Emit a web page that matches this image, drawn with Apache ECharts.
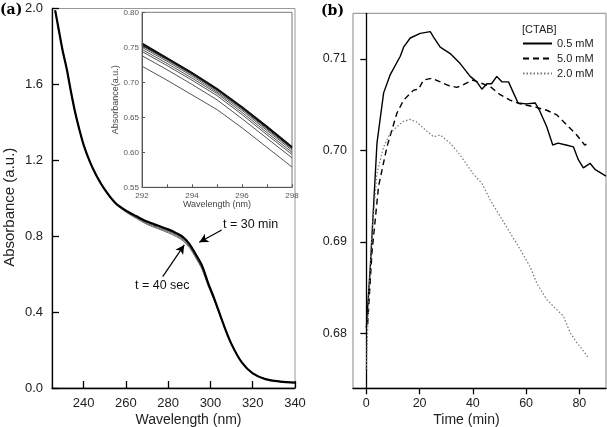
<!DOCTYPE html>
<html><head><meta charset="utf-8">
<script src="https://cdn.jsdelivr.net/npm/echarts@6/dist/echarts.min.js"></script>
<style>html,body{margin:0;padding:0;background:#fff}#c{width:607px;height:427px}</style>
</head><body><div id="c"></div>
<script>
// Panel (a) main spectra
const wl = [226.5,228,230,232,234,236,238,240,243,246,250,255,260,265,270,275,280,284,287,290,293,296,299,302,306,310,315,320,326,333,340];
const absMain = [1.99,1.90,1.78,1.68,1.56,1.45,1.36,1.28,1.19,1.12,1.045,0.975,0.935,0.905,0.877,0.856,0.836,0.815,0.795,0.76,0.705,0.645,0.55,0.465,0.34,0.23,0.132,0.077,0.047,0.034,0.028];
const absB = [1.99,1.90,1.78,1.68,1.56,1.45,1.36,1.28,1.19,1.12,1.045,0.973,0.932,0.900,0.871,0.850,0.829,0.808,0.787,0.752,0.697,0.637,0.544,0.461,0.34,0.23,0.132,0.077,0.047,0.034,0.028];
const absC = [1.99,1.90,1.78,1.68,1.56,1.45,1.36,1.28,1.19,1.12,1.045,0.972,0.930,0.897,0.867,0.845,0.824,0.803,0.782,0.746,0.692,0.631,0.540,0.458,0.34,0.23,0.132,0.077,0.047,0.034,0.028];
const absD = [1.99,1.90,1.78,1.68,1.56,1.45,1.36,1.28,1.19,1.12,1.045,0.970,0.927,0.893,0.862,0.840,0.818,0.797,0.776,0.740,0.686,0.625,0.535,0.455,0.338,0.23,0.132,0.077,0.047,0.034,0.028];
const aXTicks = [240,260,280,300,320,340];
// Inset
const insetWl = [292,293,294,295,296,297,298];
const insetLines = [
  [0.756,0.735,0.714,0.691,0.665,0.637,0.608],
  [0.755,0.734,0.713,0.690,0.664,0.636,0.607],
  [0.753,0.733,0.712,0.689,0.663,0.635,0.606],
  [0.752,0.732,0.711,0.688,0.662,0.633,0.605],
  [0.750,0.730,0.709,0.686,0.660,0.631,0.603],
  [0.747,0.727,0.706,0.684,0.657,0.628,0.600],
  [0.744,0.724,0.703,0.681,0.654,0.625,0.597],
  [0.738,0.718,0.697,0.675,0.648,0.620,0.592],
  [0.723,0.703,0.682,0.661,0.635,0.607,0.579]
];
const insetYTicks = [0.55,0.60,0.65,0.70,0.75,0.80];
// Panel (b)
const tSolid = [0,1.5,4,6.5,9,12.75,14,16.5,20.25,24,25.25,27.75,31.5,35.25,39,41.5,43.4,45.25,47,49,51,53.4,55.25,57,60,63.4,65,67.75,70,72,75,77.75,79.6,81.5,82,84,86,90];
const vSolid = [0.6806,0.6873,0.7008,0.7063,0.7083,0.7103,0.7113,0.7123,0.7128,0.7130,0.7124,0.7113,0.7106,0.7095,0.7081,0.7075,0.7067,0.7073,0.7073,0.7081,0.7075,0.7075,0.7063,0.7052,0.7051,0.7052,0.7044,0.7026,0.7006,0.7008,0.7006,0.7004,0.6990,0.6981,0.6980,0.6986,0.6979,0.6972];
const tDash = [0.5,2.1,4.6,7.75,11.5,14,17.75,19.6,21.5,24.6,27.75,30.9,34,36.5,40,42.75,46.5,50.25,54,57.75,62.75,67.75,71.5,75.25,79,82,84];
const vDash = [0.6810,0.6888,0.6961,0.7004,0.7041,0.7055,0.7066,0.7067,0.7077,0.7079,0.7075,0.7071,0.7069,0.7072,0.7077,0.7074,0.7070,0.7061,0.7055,0.7051,0.7048,0.7044,0.7039,0.7028,0.7017,0.7006,0.7009];
const tDot = [0,0.9,2.1,4,6.5,9,11.5,14,16.5,19,22.75,25.25,27.75,31.5,35.25,40,43.4,46.5,50.25,54,57.75,61.5,64,67.75,71.5,74,76.5,79,81.5,83.4];
const vDot = [0.6761,0.6837,0.6910,0.6975,0.7004,0.7019,0.7026,0.7032,0.7034,0.7031,0.7021,0.7015,0.7017,0.7008,0.6995,0.6975,0.6964,0.6946,0.6928,0.6910,0.6892,0.6873,0.6855,0.6837,0.6826,0.6819,0.6801,0.6790,0.6781,0.6773];
const bXTicks = [0,20,40,60,80];
const bYTicks = [0.68,0.69,0.70,0.71];
const legendNames = ['0.5 mM','5.0 mM','2.0 mM'];

const zip = (a,b) => a.map((v,i)=>[v,b[i]]);
const F = 'Liberation Sans, Arial, sans-serif';
const SERIF = 'bold 14px "DejaVu Serif", "Liberation Serif", serif';
const chart = echarts.init(document.getElementById('c'), null, {renderer:'canvas'});

const series = [];
[absD,absC,absB].forEach(arr => series.push({type:'line',xAxisIndex:0,yAxisIndex:0,data:zip(wl,arr),showSymbol:false,symbol:'none',smooth:0.3,lineStyle:{color:'#666',width:1},silent:true,z:2}));
series.push({type:'line',xAxisIndex:0,yAxisIndex:0,data:zip(wl,absMain),symbol:'none',smooth:0.3,lineStyle:{color:'#000',width:2.2},silent:true,z:3,
  markLine:{silent:true,symbol:['none','arrow'],symbolSize:[7,9],lineStyle:{color:'#000',width:1.2,type:'solid'},label:{show:false},
    data:[[{coord:[305.3,0.833]},{coord:[294.7,0.768]}],[{coord:[277.4,0.587]},{coord:[287.6,0.754]}]]}});
insetLines.forEach((arr,i)=>series.push({type:'line',xAxisIndex:1,yAxisIndex:1,data:zip(insetWl,arr),symbol:'none',lineStyle:{color: i<3?'#111':'#555',width: i<3?1.4:1},silent:true,z:5}));
series.push({name:legendNames[0],type:'line',xAxisIndex:2,yAxisIndex:2,data:zip(tSolid,vSolid),symbol:'none',itemStyle:{color:'#000',opacity:0},lineStyle:{color:'#000',width:1.4,type:'solid'},z:3});
series.push({name:legendNames[1],type:'line',xAxisIndex:2,yAxisIndex:2,data:zip(tDash,vDash),symbol:'none',itemStyle:{color:'#000',opacity:0},lineStyle:{color:'#000',width:1.4,type:[6,4]},z:3});
series.push({name:legendNames[2],type:'line',xAxisIndex:2,yAxisIndex:2,data:zip(tDot,vDot),symbol:'none',itemStyle:{color:'#777',opacity:0},lineStyle:{color:'#777',width:1.2,type:[1.5,2]},z:3});

chart.setOption({
  animation:false,
  backgroundColor:'#fff',
  textStyle:{fontFamily:F},
  grid:[
    {left:52,top:8.5,width:243,height:379.5,show:true,borderColor:'#999',borderWidth:1,backgroundColor:'transparent',outerBoundsMode:'none',containLabel:false},
    {left:142,top:12.3,width:150,height:175,show:true,borderColor:'#777',borderWidth:1,backgroundColor:'#fff',z:4,outerBoundsMode:'none',containLabel:false},
    {left:353,top:13.3,width:253,height:375,show:true,borderColor:'#888',borderWidth:1,backgroundColor:'transparent',outerBoundsMode:'none',containLabel:false}
  ],
  xAxis:[
    {type:'value',gridIndex:0,min:225,max:340,nameMoveOverlap:false,
     axisLine:{lineStyle:{color:'#000',width:1.3}},
     axisTick:{inside:true,length:7,lineStyle:{color:'#000',width:1.3},customValues:aXTicks},
     axisLabel:{color:'#222',fontSize:13,margin:9,customValues:aXTicks,fontFamily:F},
     splitLine:{show:false},
     name:'Wavelength (nm)',nameLocation:'middle',nameGap:25,nameTextStyle:{fontSize:14,color:'#222',fontFamily:F,padding:[0,0,0,30]}},
    {type:'value',gridIndex:1,min:292,max:298,z:6,nameMoveOverlap:false,
     axisLine:{lineStyle:{color:'#555',width:1}},
     axisTick:{inside:true,length:3,lineStyle:{color:'#555'},customValues:insetWl},
     axisLabel:{color:'#555',fontSize:8,margin:4,customValues:[292,294,296,298],fontFamily:F},
     splitLine:{show:false},
     name:'Wavelength (nm)',nameLocation:'middle',nameGap:13,nameTextStyle:{fontSize:9,color:'#444',fontFamily:F}},
    {type:'value',gridIndex:2,min:-5,max:90,nameMoveOverlap:false,
     axisLine:{lineStyle:{color:'#000',width:1.3}},
     axisTick:{inside:false,length:6,lineStyle:{color:'#000',width:1.3},customValues:bXTicks},
     axisLabel:{color:'#222',fontSize:12.5,margin:9,customValues:bXTicks,fontFamily:F},
     splitLine:{show:false},
     name:'Time (min)',nameLocation:'middle',nameGap:25,nameTextStyle:{fontSize:14,color:'#222',fontFamily:F,padding:[0,26,0,0]}}
  ],
  yAxis:[
    {type:'value',gridIndex:0,min:0,max:2,interval:0.4,nameMoveOverlap:false,
     axisLine:{lineStyle:{color:'#000',width:1.3}},
     axisTick:{inside:true,length:7,lineStyle:{color:'#000',width:1.3}},
     axisLabel:{color:'#222',fontSize:13,margin:9,formatter:v=>v.toFixed(1),fontFamily:F},
     splitLine:{show:false},
     name:'Absorbance (a.u.)',nameLocation:'middle',nameGap:35,nameTextStyle:{fontSize:15,color:'#222',fontFamily:F,padding:[0,18,0,0]}},
    {type:'value',gridIndex:1,min:0.55,max:0.80,z:6,nameMoveOverlap:false,
     axisLine:{lineStyle:{color:'#555',width:1}},
     axisTick:{inside:true,length:3,lineStyle:{color:'#555'},customValues:insetYTicks},
     axisLabel:{color:'#555',fontSize:8,margin:3,customValues:insetYTicks,formatter:v=>v.toFixed(2),fontFamily:F},
     splitLine:{show:false},
     name:'Absorbance(a.u.)',nameLocation:'middle',nameGap:22,nameTextStyle:{fontSize:9,color:'#444',fontFamily:F}},
    {type:'value',gridIndex:2,min:0.674,max:0.715,
     axisLine:{lineStyle:{color:'#000',width:1.3}},
     axisTick:{inside:false,length:6,lineStyle:{color:'#000',width:1.3},customValues:bYTicks},
     axisLabel:{color:'#222',fontSize:12.5,margin:6,customValues:bYTicks,formatter:v=>v.toFixed(2),fontFamily:F},
     splitLine:{show:false}}
  ],
  legend:{orient:'vertical',left:522,top:38,padding:0,itemWidth:29,itemHeight:10,itemGap:4,data:legendNames,
    itemStyle:{opacity:0},
    textStyle:{fontSize:11,lineHeight:11,color:'#222',fontFamily:F,padding:[0,0,0,0]},selectedMode:false},
  graphic:[
    {type:'text',left:0,top:3,style:{text:'(a)',font:SERIF,fill:'#000'}},
    {type:'text',left:321,top:4,style:{text:'(b)',font:SERIF,fill:'#000'}},
    {type:'text',left:522,top:24,style:{text:'[CTAB]',font:'11px '+F,fill:'#222'}},
    {type:'text',left:223,top:218,style:{text:'t = 30 min',font:'12.5px '+F,fill:'#111'}},
    {type:'text',left:135,top:279,style:{text:'t = 40 sec',font:'12.5px '+F,fill:'#111'}}
  ],
  series:series
});
</script></body></html>
